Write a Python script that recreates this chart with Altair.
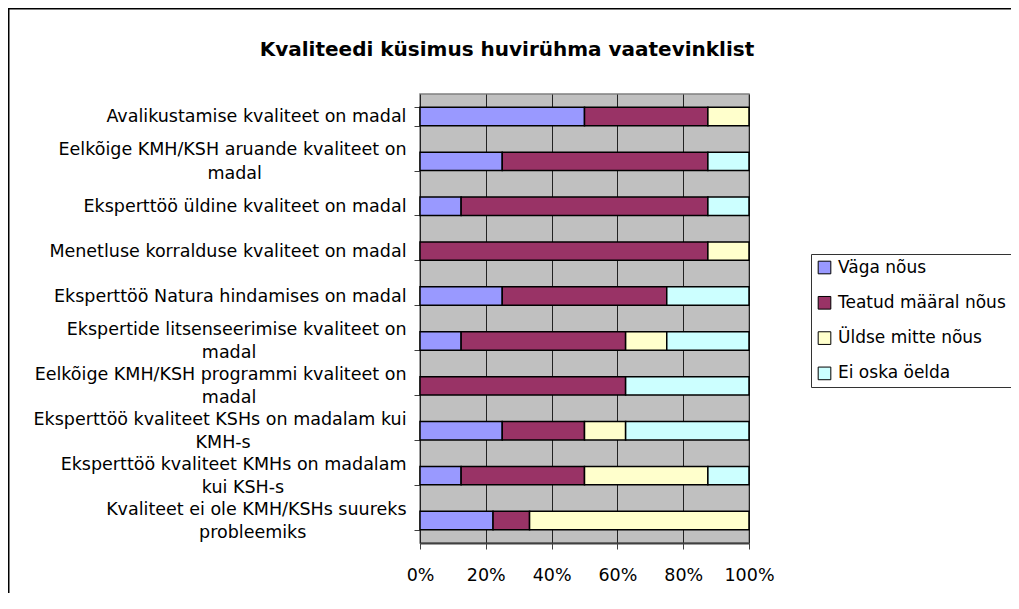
import altair as alt
import pandas as pd

categories = [
    "Avalikustamise kvaliteet on madal",
    "Eelkõige KMH/KSH aruande kvaliteet on|madal",
    "Eksperttöö üldine kvaliteet on madal",
    "Menetluse korralduse kvaliteet on madal",
    "Eksperttöö Natura hindamises on madal",
    "Ekspertide litsenseerimise kvaliteet on|madal",
    "Eelkõige KMH/KSH programmi kvaliteet on|madal",
    "Eksperttöö kvaliteet KSHs on madalam kui|KMH-s",
    "Eksperttöö kvaliteet KMHs on madalam|kui KSH-s",
    "Kvaliteet ei ole KMH/KSHs suureks|probleemiks",
]
series = ["Väga nõus", "Teatud määral nõus", "Üldse mitte nõus", "Ei oska öelda"]
vaga_nous = [50, 25, 12.5, 0, 25, 12.5, 0, 25, 12.5, 22.2]
teatud_maaral = [37.5, 62.5, 75, 87.5, 50, 50, 62.5, 25, 37.5, 11.1]
uldse_mitte = [12.5, 0, 0, 12.5, 0, 12.5, 0, 12.5, 37.5, 66.7]
ei_oska = [0, 12.5, 12.5, 0, 25, 25, 37.5, 37.5, 12.5, 0]
colors = ["#9999FF", "#993366", "#FFFFCC", "#CCFFFF"]
x_ticks = [0, 0.2, 0.4, 0.6, 0.8, 1.0]
title_text = "Kvaliteedi küsimus huvirühma vaatevinklist"

rows = []
for s_i, (s, vals) in enumerate(zip(series, [vaga_nous, teatud_maaral, uldse_mitte, ei_oska])):
    for c, v in zip(categories, vals):
        rows.append({"category": c, "series": s, "value": v, "order": s_i})
df = pd.DataFrame(rows)

FONT = "DejaVu Sans"
FS = 17.5

# second line of a wrapped label is centred under the first (as in the original):
# pad it at the end with no-break spaces, closed by a zero-width space so the
# padding is not trimmed away.
label_expr = (
    "length(split(datum.label,'|'))>1 ? "
    "[split(datum.label,'|')[0], "
    "pad(split(datum.label,'|')[1], length(split(datum.label,'|')[1]) + "
    "round((length(split(datum.label,'|')[0]) - length(split(datum.label,'|')[1])) * 0.8), '\u00a0') + '\u200b']"
    " : datum.label"
)

bars = alt.Chart(df).transform_filter("datum.value > 0").mark_bar(
    stroke="black", strokeWidth=1.5
).encode(
    y=alt.Y(
        "category:N",
        sort=categories,
        scale=alt.Scale(paddingInner=0.59, paddingOuter=0.295),
        axis=alt.Axis(
            title=None, tickBand="extent", tickSize=6, tickColor="#404040",
            domain=False, grid=False, labelFont=FONT, labelFontSize=FS,
            labelColor="black", labelPadding=8, labelLimit=0,
            labelLineHeight=23.5, labelExpr=label_expr,
            labelOffset={"condition": {"test": "indexof(datum.label, '|') >= 0", "value": -11.5}, "value": 0},
        ),
    ),
    x=alt.X(
        "value:Q",
        stack="normalize",
        scale=alt.Scale(domain=[0, 1]),
        axis=alt.Axis(
            title=None, format=".0%", values=x_ticks, grid=True,
            gridColor="#222222", gridWidth=1, tickSize=6, tickColor="#404040",
            domainColor="#404040", domainWidth=2, labelFont=FONT,
            labelFontSize=FS, labelColor="black", labelPadding=17,
            labelFlush=False,
        ),
    ),
    color=alt.Color(
        "series:N",
        sort=series,
        scale=alt.Scale(domain=series, range=colors),
        legend=alt.Legend(
            title=None, orient="none", legendX=391, legendY=160,
            direction="vertical", symbolType="square", symbolSize=160,
            symbolStrokeColor="black", symbolStrokeWidth=1,
            labelFont=FONT, labelFontSize=17, labelColor="black",
            labelOffset=5, rowPadding=17.3, padding=5,
            strokeColor="#333333", fillColor="white", labelLimit=0,
        ),
    ),
    order=alt.Order("order:Q"),
)

title = alt.Chart(alt.Data(values=[{"t": title_text}])).mark_text(
    font=FONT, fontSize=20, fontWeight="bold", color="black",
    align="center", baseline="alphabetic",
).encode(text="t:N", x=alt.value(87), y=alt.value(-38.5))

frame_top = alt.Chart(alt.Data(values=[{}])).mark_rule(
    color="black", strokeWidth=2
).encode(x=alt.value(-413), x2=alt.value(600), y=alt.value(-85.5))

frame_left = alt.Chart(alt.Data(values=[{}])).mark_rule(
    color="black", strokeWidth=2
).encode(x=alt.value(-411.5), y=alt.value(-86), y2=alt.value(520))

chart = alt.layer(bars, title, frame_top, frame_left).properties(
    width=329,
    height=449,
    autosize="none",
    padding={"left": 412, "top": 86, "right": 262, "bottom": 50},
    background="white",
).configure_view(
    fill="#C0C0C0", stroke="#808080", strokeWidth=1.5
)

chart.save("out.html", embed_options={"renderer": "svg", "actions": False})
